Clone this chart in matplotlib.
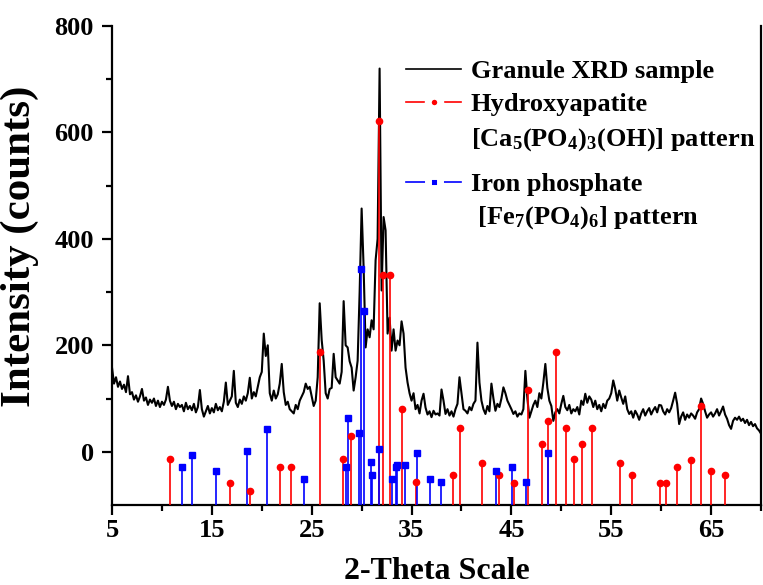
import numpy as np
import matplotlib
matplotlib.use("Agg")
import matplotlib.pyplot as plt
from matplotlib.lines import Line2D

plt.rcParams['font.family'] = 'Liberation Serif'
plt.rcParams['font.weight'] = 'bold'
plt.rcParams['mathtext.fontset'] = 'custom'
plt.rcParams['mathtext.rm'] = 'Liberation Serif:bold'
plt.rcParams['mathtext.it'] = 'Liberation Serif:bold:italic'
plt.rcParams['mathtext.bf'] = 'Liberation Serif:bold'
plt.rcParams['mathtext.default'] = 'rm'

# Muestra: 2-theta de 5 a 70 cada 0.2 grados
two_theta = np.round(np.arange(5, 70.01, 0.2), 1)
intensity = [
    158, 128, 140, 122, 132,   # 5
    118, 126, 112, 142, 108,   # 6
    112, 98, 106, 94, 104,     # 7
    118, 96, 102, 88, 98,      # 8
    92, 100, 86, 96, 84,       # 9
    94, 88, 98, 122, 96,       # 10
    86, 94, 80, 90, 84,        # 11
    88, 76, 92, 80, 86,        # 12
    78, 90, 74, 84, 116,       # 13
    80, 66, 76, 86, 72,        # 14
    82, 74, 90, 78, 84,        # 15
    76, 94, 130, 88, 96,       # 16
    104, 152, 92, 84, 98,      # 17
    90, 104, 96, 110, 139,     # 18
    100, 112, 104, 122, 140,   # 19
    150, 222, 180, 200, 110,   # 20
    96, 115, 100, 108, 128,    # 21
    165, 112, 88, 94, 80,      # 22
    76, 72, 88, 80, 96,        # 23
    104, 112, 128, 118, 122,   # 24
    104, 86, 96, 140, 279,     # 25
    210, 171, 110, 100, 118,   # 26
    120, 184, 140, 134, 128,   # 27
    150, 283, 200, 196, 170,   # 28
    158, 115, 140, 171, 300,   # 29
    457, 346, 196, 230, 215,   # 30
    247, 230, 360, 400, 720,   # 31
    303, 441, 416, 222, 252,   # 32
    190, 230, 190, 209, 200,   # 33
    245, 222, 158, 130, 110,   # 34
    96, 110, 80, 88, 72,       # 35
    96, 109, 83, 70, 76,       # 36
    65, 77, 70, 72, 68,        # 37
    117, 96, 71, 80, 68,       # 38
    76, 66, 80, 90, 140,       # 39
    110, 80, 77, 72, 84,       # 40
    78, 90, 96, 205, 130,      # 41
    96, 80, 71, 86, 76,        # 42
    128, 100, 77, 90, 84,      # 43
    100, 121, 110, 96, 88,     # 44
    80, 71, 76, 66, 72,        # 45
    70, 80, 152, 100, 64,      # 46
    76, 88, 96, 84, 110,       # 47
    100, 130, 165, 120, 96,    # 48
    86, 58, 74, 80, 72,        # 49
    90, 105, 84, 78, 88,       # 50
    72, 80, 76, 84, 70,        # 51
    96, 88, 109, 92, 104,      # 52
    98, 84, 96, 80, 88,        # 53
    76, 90, 82, 96, 100,       # 54
    110, 134, 118, 96, 115,    # 55
    102, 90, 104, 80, 71,      # 56
    76, 64, 77, 70, 60,        # 57
    72, 80, 68, 76, 82,        # 58
    70, 78, 84, 74, 88,        # 59
    87, 76, 70, 80, 74,        # 60
    82, 96, 111, 90, 52,       # 61
    66, 74, 60, 70, 64,        # 62
    72, 68, 62, 74, 80,        # 63
    100, 90, 76, 64, 70,       # 64
    74, 66, 72, 80, 68,        # 65
    76, 85, 70, 62, 50,        # 66
    43, 58, 64, 60, 66,        # 67
    58, 62, 54, 60, 50,        # 68
    56, 48, 52, 44, 40,        # 69
    34,                        # 70
]

# Patrón hidroxiapatita
hap_pos = [10.81, 16.83, 18.83, 21.8, 22.9, 25.88, 28.11, 28.95, 31.76, 32.19,
           32.89, 34.07, 35.47, 39.18, 39.84, 42.02, 43.79, 45.29, 46.7, 48.1,
           48.63, 49.43, 50.47, 51.24, 52.07, 53.11, 55.88, 57.08, 59.88, 60.46,
           61.63, 63.03, 64.03, 65.04, 66.37]
hap_int = [-14, -58, -73, -29, -29, 188, -14, 30, 621, 332,
           332, 80, -57, -43, 44, -22, -43, -58, 116, 14,
           57, 188, 44, -14, 14, 44, -22, -43, -58, -58,
           -29, -15, 86, -36, -43]

# Patrón fosfato de hierro
fe_pos = [12.0, 13.02, 15.42, 18.56, 20.5, 24.24, 28.45, 28.65, 29.69, 29.92,
          30.26, 30.96, 31.06, 31.79, 33.09, 33.4, 33.5, 34.37, 35.5, 36.87,
          37.94, 43.45, 45.09, 46.46, 48.7]
fe_int = [-28, -7, -37, 2, 42, -52, -28, 63, 36, 344,
          264, -20, -43, 6, -51, -28, -24, -24, -2, -51,
          -56, -37, -28, -56, -3]

fig = plt.figure(figsize=(7.63, 5.85), dpi=100)
ax = fig.add_axes([0.1468, 0.1368, 0.8506, 0.8188])

ax.plot(two_theta, intensity, color='black', lw=1.5, zorder=2)

ybase = -100
ax.vlines(hap_pos, ybase, hap_int, color='red', lw=1.2, zorder=3)
ax.plot(hap_pos, hap_int, 'o', color='red', ms=4.5, zorder=4)
ax.vlines(fe_pos, ybase, fe_int, color='blue', lw=1.2, zorder=3)
ax.plot(fe_pos, fe_int, 's', color='blue', ms=4, zorder=4)

ax.set_xlim(5, 70)
ax.set_ylim(-100, 800)
ax.set_xticks([5, 15, 25, 35, 45, 55, 65])
ax.set_xticks([10, 20, 30, 40, 50, 60, 70], minor=True)
ax.set_yticks([0, 200, 400, 600, 800])
ax.set_yticks([100, 300, 500, 700], minor=True)
ax.tick_params(which='major', direction='out', length=7, width=1.6, labelsize=19)
ax.tick_params(axis='x', which='major', pad=3)
ax.tick_params(axis='y', which='major', pad=6)
ax.tick_params(which='minor', direction='out', length=4, width=1.6)
ax.spines['top'].set_visible(False)
for s in ['left', 'bottom', 'right']:
    ax.spines[s].set_linewidth(1.6)

ax.set_xlabel('2-Theta Scale', fontsize=23, fontweight='bold', labelpad=11)
ax.set_ylabel('Intensity (counts)', fontsize=31, fontweight='bold')
ax.yaxis.set_label_coords(-0.112, 0.54)

# Leyenda (dos bloques para imitar el espaciado)
blank = Line2D([], [], color='none')
h1 = [
    Line2D([], [], color='black', lw=1.2),
    Line2D([], [], color='red', lw=1.2, marker='o', ms=9, mfc='red', mec='white', mew=5),
    blank,
]
l1 = ['Granule XRD sample', 'Hydroxyapatite', '[Ca$_5$(PO$_4$)$_3$(OH)] pattern']
h2 = [
    Line2D([], [], color='blue', lw=1.2, marker='s', ms=9, mfc='blue', mec='white', mew=5),
    blank,
]
l2 = ['Iron phosphate', ' [Fe$_7$(PO$_4$)$_6$] pattern']

leg1 = fig.legend(h1, l1, loc='upper left', bbox_to_anchor=(406 / 763, 1 - 60 / 585),
                  frameon=False, fontsize=19, handlelength=2.1, handletextpad=0.35,
                  labelspacing=0.36, borderpad=0, borderaxespad=0)
leg2 = fig.legend(h2, l2, loc='upper left', bbox_to_anchor=(406 / 763, 1 - 173 / 585),
                  frameon=False, fontsize=19, handlelength=2.1, handletextpad=0.35,
                  labelspacing=0.3, borderpad=0, borderaxespad=0)

fig.savefig('out.png', dpi=100)
